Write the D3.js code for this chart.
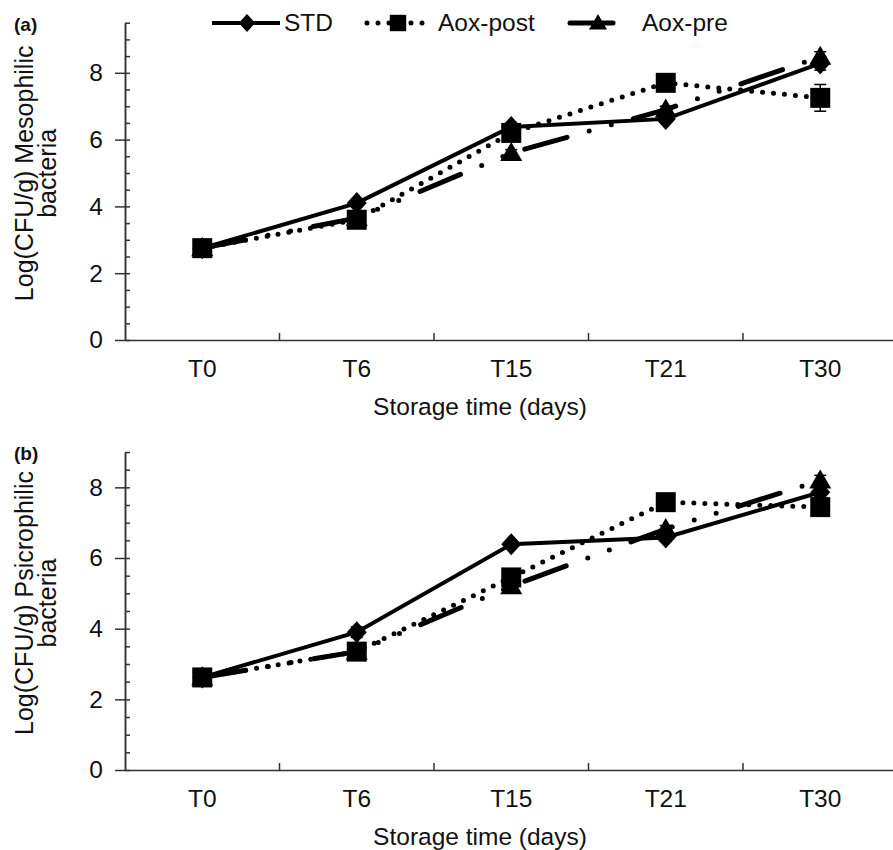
<!DOCTYPE html>
<html>
<head>
<meta charset="utf-8">
<script src="https://cdn.jsdelivr.net/npm/d3@7"></script>
<style>
  body { margin: 0; background: #fff; }
  svg { display: block; font-family: "Liberation Sans", Arial, sans-serif; }
  .axis path, .axis line { stroke: #333; stroke-width: 1.5; }
  .axis text { font-size: 24.5px; fill: #111; font-family: "Liberation Sans", Arial, sans-serif; }
</style>
</head>
<body>
<svg id="chart" width="893" height="850"></svg>
<script>
// categorias del eje x
var categories = ["T0", "T6", "T15", "T21", "T30"];
var seriesNames = ["STD", "Aox-post", "Aox-pre"];

// (a) mesofilos
var mesoSTD  = [2.75, 4.10, 6.38, 6.62, 8.28];
var mesoPost = [2.75, 3.60, 6.20, 7.70, 7.25];
var mesoPre  = [2.75, 3.65, 5.60, 6.90, 8.48];
var mesoErrSTD  = [0.05, 0.10, 0.10, 0.10, 0.20];
var mesoErrPost = [0.05, 0.10, 0.10, 0.10, 0.40];
var mesoErrPre  = [0.05, 0.10, 0.10, 0.10, 0.15];

// (b) psicrofilos
var psicroSTD  = [2.62, 3.90, 6.39, 6.58, 7.86];
var psicroPost = [2.62, 3.35, 5.45, 7.58, 7.44];
var psicroPre  = [2.62, 3.35, 5.20, 6.82, 8.19];
var psicroErrSTD  = [0.05, 0.15, 0.10, 0.10, 0.15];
var psicroErrPost = [0.05, 0.15, 0.20, 0.10, 0.15];
var psicroErrPre  = [0.05, 0.10, 0.10, 0.10, 0.15];

var yMajor = [0, 2, 4, 6, 8];

var svg = d3.select("#chart");

// estilos por serie
var estilos = {
  "STD":      {dash: null, width: 4, cap: "butt", marker: "diamond"},
  "Aox-post": {dash: "0 11", width: 5, cap: "round", marker: "square"},
  "Aox-pre":  {dash: "44 23 0 23 0 23", width: 5, cap: "round", marker: "triangle"}
};

function markerPath(tipo, k) {
  // k = escala del marcador
  if (tipo == "diamond") {
    return "M0," + (-11 * k) + "L" + (10 * k) + ",0L0," + (11 * k) + "L" + (-10 * k) + ",0Z";
  } else if (tipo == "square") {
    return "M" + (-10 * k) + "," + (-10 * k) + "h" + (20 * k) + "v" + (20 * k) + "h" + (-20 * k) + "Z";
  } else {
    return "M0," + (-11 * k) + "L" + (11 * k) + "," + (8 * k) + "L" + (-11 * k) + "," + (8 * k) + "Z";
  }
}

var panels = [
  {label: "(a)", top: 22.7, bottom: 340, ymax: 9.5, ytitle: ["Log(CFU/g) Mesophilic", "bacteria"],
   data: [mesoSTD, mesoPost, mesoPre], err: [mesoErrSTD, mesoErrPost, mesoErrPre]},
  {label: "(b)", top: 452, bottom: 770, ymax: 9, ytitle: ["Log(CFU/g) Psicrophilic", "bacteria"],
   data: [psicroSTD, psicroPost, psicroPre], err: [psicroErrSTD, psicroErrPost, psicroErrPre]}
];

var x = d3.scaleBand().domain(categories).range([125, 897.5]);

panels.forEach(function(p) {
  var y = d3.scaleLinear().domain([0, p.ymax]).range([p.bottom, p.top]);
  var g = svg.append("g");

  // eje y: ticks menores hacia dentro
  var minor = d3.range(0, p.ymax + 0.01, 0.5);
  g.append("g")
    .attr("class", "axis")
    .attr("transform", "translate(125,0)")
    .call(d3.axisRight(y).tickValues(minor).tickSize(5).tickSizeOuter(0).tickFormat(""));

  g.append("g")
    .attr("class", "axis")
    .attr("transform", "translate(125,0)")
    .call(d3.axisLeft(y).tickValues(yMajor).tickSize(10).tickSizeOuter(0).tickPadding(12));

  // eje x
  var xa = g.append("g")
    .attr("class", "axis")
    .attr("transform", "translate(0," + p.bottom + ")")
    .call(d3.axisBottom(x).tickSize(0).tickSizeOuter(0).tickPadding(20));
  xa.selectAll(".tick text").attr("dy", "0.71em");

  g.selectAll(".sep")
    .data(categories.slice(1))
    .enter().append("line")
    .attr("x1", function(d) { return x(d); })
    .attr("x2", function(d) { return x(d); })
    .attr("y1", p.bottom)
    .attr("y2", p.bottom - 7)
    .attr("stroke", "#333")
    .attr("stroke-width", 1.5);

  g.append("text")
    .attr("x", 480)
    .attr("y", p.bottom + 75)
    .attr("text-anchor", "middle")
    .attr("font-size", 24.5)
    .attr("fill", "#111")
    .text("Storage time (days)");

  // titulo eje y en dos lineas
  var cy = (p.top + p.bottom) / 2 - 8;
  var yt = g.append("text")
    .attr("transform", "translate(33," + cy + ") rotate(-90)")
    .attr("text-anchor", "middle")
    .attr("font-size", 25)
    .attr("fill", "#111");
  yt.append("tspan").attr("x", 0).attr("y", 0).text(p.ytitle[0]);
  yt.append("tspan").attr("x", 0).attr("y", 23).text(p.ytitle[1]);

  g.append("text")
    .attr("x", 14)
    .attr("y", p.top + 8)
    .attr("font-size", 19)
    .attr("font-weight", "bold")
    .attr("fill", "#111")
    .text(p.label);

  // series
  seriesNames.forEach(function(nombre, i) {
    var est = estilos[nombre];
    var valores = p.data[i];
    var errores = p.err[i];
    var linea = d3.line()
      .x(function(d, j) { return x(categories[j]) + x.bandwidth() / 2; })
      .y(function(d) { return y(d); });

    g.append("path")
      .datum(valores)
      .attr("d", linea)
      .attr("fill", "none")
      .attr("stroke", "#000")
      .attr("stroke-width", est.width)
      .attr("stroke-linecap", est.cap)
      .attr("stroke-dasharray", est.dash);

    // barras de error
    var eb = g.selectAll(".err" + i)
      .data(valores)
      .enter().append("g")
      .attr("transform", function(d, j) { return "translate(" + (x(categories[j]) + x.bandwidth() / 2) + ",0)"; });
    eb.append("line")
      .attr("x1", 0).attr("x2", 0)
      .attr("y1", function(d, j) { return y(d + errores[j]); })
      .attr("y2", function(d, j) { return y(d - errores[j]); })
      .attr("stroke", "#000").attr("stroke-width", 1.5);
    eb.append("line")
      .attr("x1", -6).attr("x2", 6)
      .attr("y1", function(d, j) { return y(d + errores[j]); })
      .attr("y2", function(d, j) { return y(d + errores[j]); })
      .attr("stroke", "#000").attr("stroke-width", 1.5);
    eb.append("line")
      .attr("x1", -6).attr("x2", 6)
      .attr("y1", function(d, j) { return y(d - errores[j]); })
      .attr("y2", function(d, j) { return y(d - errores[j]); })
      .attr("stroke", "#000").attr("stroke-width", 1.5);

    g.selectAll(".mk" + i)
      .data(valores)
      .enter().append("path")
      .attr("d", markerPath(est.marker, 1))
      .attr("transform", function(d, j) {
        return "translate(" + (x(categories[j]) + x.bandwidth() / 2) + "," + y(d) + ")";
      })
      .attr("fill", "#000");
  });
});

// leyenda
var leyenda = [
  {name: "STD", x1: 212, x2: 280, mx: 247, tx: 284},
  {name: "Aox-post", x1: 367, x2: 431, mx: 398, tx: 438},
  {name: "Aox-pre", x1: 570, x2: 613, mx: 598, tx: 642}
];
var ly = 23;
leyenda.forEach(function(l) {
  var est = estilos[l.name];
  svg.append("line")
    .attr("x1", l.x1).attr("x2", l.x2)
    .attr("y1", ly).attr("y2", ly)
    .attr("stroke", "#000")
    .attr("stroke-width", est.width)
    .attr("stroke-linecap", est.cap)
    .attr("stroke-dasharray", l.name == "Aox-post" ? est.dash : null);
  svg.append("path")
    .attr("d", markerPath(est.marker, 0.82))
    .attr("transform", "translate(" + l.mx + "," + ly + ")")
    .attr("fill", "#000");
  svg.append("text")
    .attr("x", l.tx)
    .attr("y", ly + 8)
    .attr("font-size", 24.5)
    .attr("fill", "#111")
    .text(l.name);
});
</script>
</body>
</html>
